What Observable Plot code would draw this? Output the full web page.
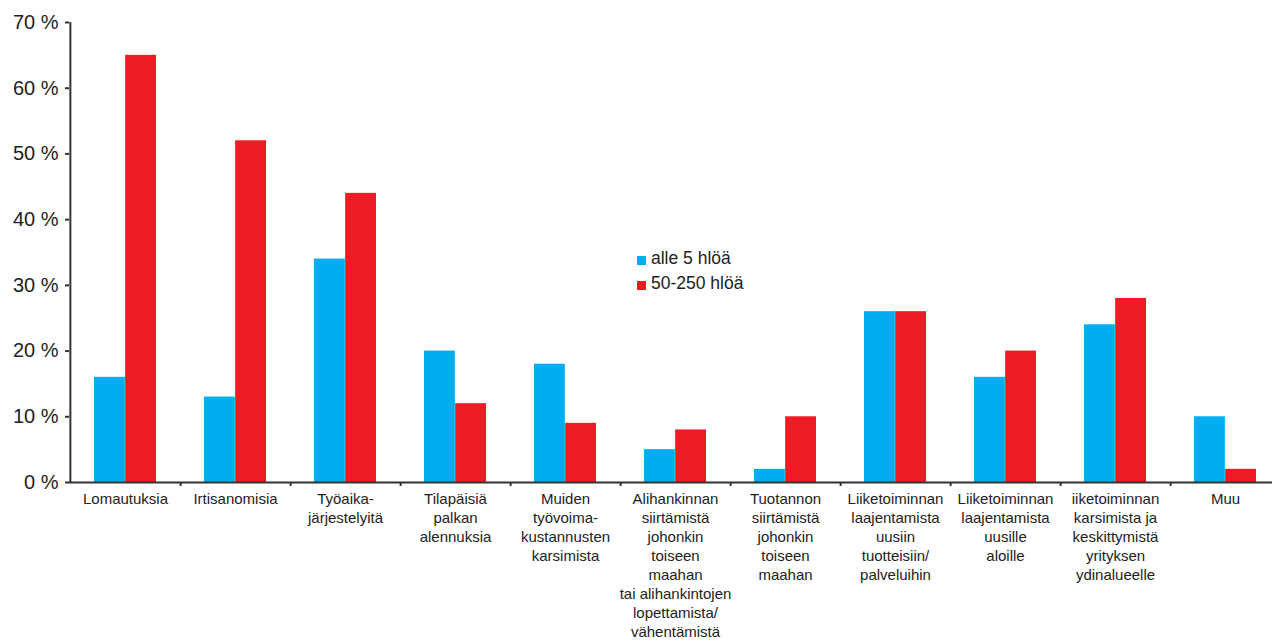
<!DOCTYPE html>
<html>
<head>
<meta charset="utf-8">
<script src="https://cdn.jsdelivr.net/npm/d3@7"></script>
<script src="https://cdn.jsdelivr.net/npm/@observablehq/plot@0.6"></script>
<style>
  html, body { margin: 0; padding: 0; background: #fff; overflow: hidden; }
  #wrap { position: relative; width: 1272px; height: 641px; }
  #legend { position: absolute; left: 637px; top: 246px; font-family: "Liberation Sans", Arial, sans-serif; font-size: 17.5px; color: #222; }
  #legend .row { display: flex; align-items: center; height: 25px; }
  #legend .sw { width: 9px; height: 9px; margin-right: 5px; margin-top: 3px; }
</style>
</head>
<body>
<div id="wrap"><div id="legend"></div></div>
<script>
// Syyt / toimenpiteet yrityskoon mukaan (% vastaajista)
const categories = [
  "Lomautuksia",
  "Irtisanomisia",
  "Työaika-\njärjestelyitä",
  "Tilapäisiä\npalkan\nalennuksia",
  "Muiden\ntyövoima-\nkustannusten\nkarsimista",
  "Alihankinnan\nsiirtämistä\njohonkin\ntoiseen\nmaahan\ntai alihankintojen\nlopettamista/\nvähentämistä",
  "Tuotannon\nsiirtämistä\njohonkin\ntoiseen\nmaahan",
  "Liiketoiminnan\nlaajentamista\nuusiin\ntuotteisiin/\npalveluihin",
  "Liiketoiminnan\nlaajentamista\nuusille\naloille",
  "iiketoiminnan\nkarsimista ja\nkeskittymistä\nyrityksen\nydinalueelle",
  "Muu"
];
const seriesNames = ["alle 5 hlöä", "50-250 hlöä"];
const small = [16, 13, 34, 20, 18, 5, 2, 26, 16, 24, 10];
const large = [65, 52, 44, 12, 9, 8, 10, 26, 20, 28, 2];
const yTicks = [0, 10, 20, 30, 40, 50, 60, 70];

const colors = ["#00AEEF", "#ED1C24"];
const rows = categories.map((c, i) => ({category: c, small: small[i], large: large[i]}));

const W = 1272, H = 641, ML = 69, MR = -10;
const padIn = 0.435;
const step = (W - ML - MR) / categories.length;
const bw = step * (1 - padIn);
const font = "'Liberation Sans', Arial, sans-serif";
const axisColor = "#333";

const chart = Plot.plot({
  width: W,
  height: H,
  marginLeft: ML,
  marginRight: MR,
  marginTop: 22,
  marginBottom: H - 482,
  style: {fontFamily: font, color: "#222", background: "#fff"},
  x: {domain: categories, paddingInner: padIn, paddingOuter: padIn / 2, axis: null, label: null},
  y: {domain: [0, 70], axis: null, label: null},
  marks: [
    Plot.barY(rows, {x: "category", y: "small", fill: colors[0], insetRight: bw / 2}),
    Plot.barY(rows, {x: "category", y: "large", fill: colors[1], insetLeft: bw / 2}),
    // vertical axis line along the left edge of the first group
    Plot.ruleX([categories[0]], {x: d => d, y1: 0, y2: 70, dx: -step / 2, stroke: axisColor, strokeWidth: 2}),
    Plot.axisY({ticks: yTicks, tickSize: 4, tickPadding: 7, tickFormat: d => `${d} %`, fontSize: 20, stroke: axisColor, strokeWidth: 2, fill: "#222", label: null}),
    Plot.ruleY([0], {stroke: axisColor, strokeWidth: 2}),
    Plot.axisX({tickSize: 4, dx: step / 2, text: null, stroke: axisColor, strokeWidth: 2, label: null}),
    Plot.axisX({tickSize: 0, tickPadding: 8, fontSize: 15, lineHeight: 1.27, fill: "#222", tickFormat: d => d, label: null})
  ]
});
document.getElementById("wrap").prepend(chart);

const legend = document.getElementById("legend");
seriesNames.forEach((name, i) => {
  const row = document.createElement("div");
  row.className = "row";
  const sw = document.createElement("span");
  sw.className = "sw";
  sw.style.background = colors[i];
  const label = document.createElement("span");
  label.textContent = name;
  row.append(sw, label);
  legend.append(row);
});
</script>
</body>
</html>
